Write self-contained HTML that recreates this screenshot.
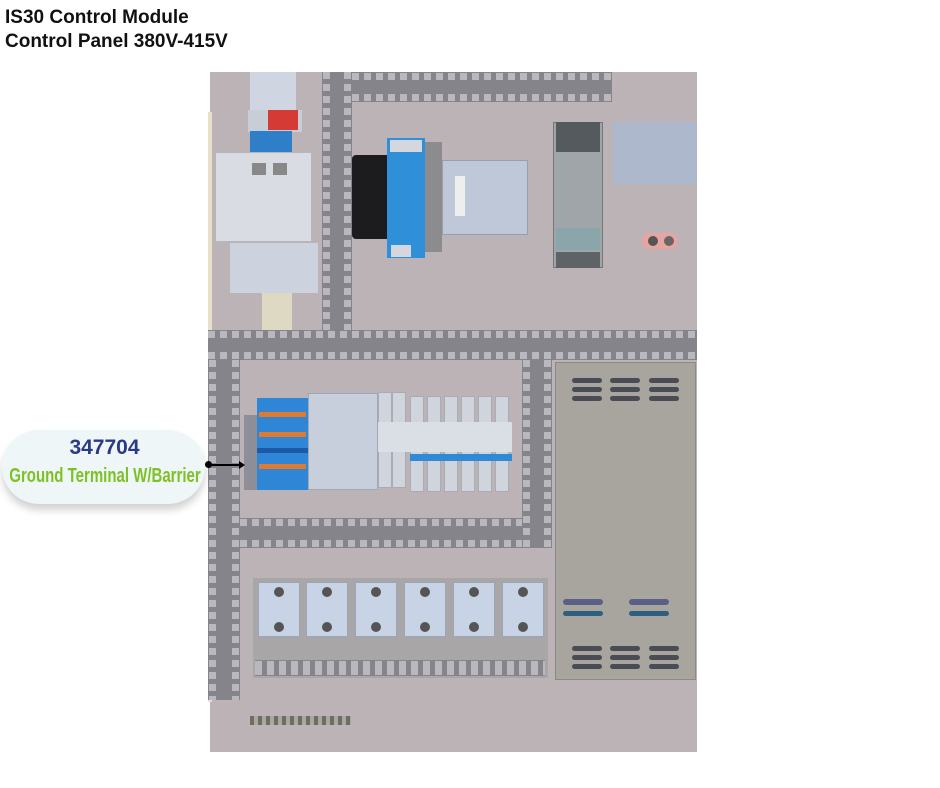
<!DOCTYPE html>
<html><head><style>
body{margin:0;width:940px;height:788px;background:#fff;position:relative;overflow:hidden;font-family:"Liberation Sans",sans-serif}
div{position:absolute;box-sizing:border-box}
.dh{background:#85848a;}
.dh:before,.dh:after{content:"";position:absolute;left:0;right:0;height:7px;background:repeating-linear-gradient(90deg,#b9b8be 0 7px,#85848a 7px 12px)}
.dh:before{top:1px}.dh:after{bottom:1px}
.dv{background:#85848a;}
.dv:before,.dv:after{content:"";position:absolute;top:0;bottom:0;width:7px;background:repeating-linear-gradient(180deg,#b9b8be 0 7px,#85848a 7px 12px)}
.dv:before{left:1px}.dv:after{right:1px}
.relay{width:42px;height:55px;background:#c9d3e6;border:1px solid #9aa5b8}
.relay:before{content:"";position:absolute;left:15px;top:4px;width:10px;height:10px;border-radius:50%;background:#555}
.relay:after{content:"";position:absolute;left:15px;bottom:4px;width:10px;height:10px;border-radius:50%;background:#555}
.slot{height:5px;width:30px;border-radius:3px;background:#4a4c55}
.br{width:14px;height:96px;background:#d0d4dc;border:1px solid #a7acb6}
</style></head><body>
<div style="left:5px;top:6px;font-weight:bold;font-size:19px;line-height:24px;color:#111">IS30 Control Module<br>Control Panel 380V-415V</div>

<!-- panel -->
<div style="left:210px;top:72px;width:487px;height:680px;background:#bbb3b6"></div>
<div style="left:208px;top:112px;width:4px;height:590px;background:#e8e0c8"></div>

<!-- top left modules -->
<div style="left:250px;top:72px;width:46px;height:40px;background:#cfd6e2"></div>
<div style="left:248px;top:110px;width:54px;height:22px;background:#c7ced8"></div>
<div style="left:268px;top:110px;width:30px;height:20px;background:#d63a35"></div>
<div style="left:250px;top:131px;width:42px;height:21px;background:#2f7fc8"></div>
<div style="left:215px;top:152px;width:97px;height:90px;background:#d9dce2;border:1px solid #b3b7bf"></div>
<div style="left:252px;top:163px;width:14px;height:12px;background:#888"></div>
<div style="left:273px;top:163px;width:14px;height:12px;background:#888"></div>
<div style="left:230px;top:243px;width:88px;height:50px;background:#cdd3de"></div>
<div style="left:262px;top:293px;width:30px;height:37px;background:#ddd9c2"></div>

<!-- ducts top -->
<div class="dv" style="left:322px;top:72px;width:30px;height:258px"></div>
<div class="dh" style="left:352px;top:72px;width:260px;height:30px"></div>
<div class="dh" style="left:208px;top:330px;width:489px;height:30px"></div>

<!-- top components -->
<div style="left:352px;top:155px;width:40px;height:84px;background:#1c1c1e;border-radius:4px"></div>
<div style="left:425px;top:142px;width:17px;height:110px;background:#8c8b8d"></div>
<div style="left:387px;top:138px;width:38px;height:120px;background:#2f8fd8"></div>
<div style="left:390px;top:140px;width:32px;height:12px;background:#d4d8de"></div>
<div style="left:391px;top:245px;width:20px;height:12px;background:#d4d8de"></div>
<div style="left:442px;top:160px;width:86px;height:75px;background:#bfc8d8;border:1px solid #98a0ae"></div>
<div style="left:455px;top:176px;width:10px;height:40px;background:#eee"></div>
<div style="left:553px;top:122px;width:50px;height:146px;background:#9fa5a8;border:1px solid #777"></div>
<div style="left:556px;top:122px;width:44px;height:30px;background:#555a5e"></div>
<div style="left:556px;top:252px;width:44px;height:16px;background:#5f6366"></div>
<div style="left:556px;top:228px;width:44px;height:22px;background:#8aa6aa"></div>
<div style="left:613px;top:122px;width:84px;height:62px;background:#aeb8cc"></div>
<div style="left:642px;top:233px;width:36px;height:16px;background:#e8a4a0;border-radius:8px"></div>
<div style="left:648px;top:236px;width:10px;height:10px;background:#555;border-radius:50%"></div>
<div style="left:664px;top:236px;width:10px;height:10px;background:#666;border-radius:50%"></div>

<!-- lower ducts -->
<div class="dv" style="left:208px;top:360px;width:32px;height:340px"></div>
<div class="dv" style="left:522px;top:360px;width:30px;height:188px"></div>
<div class="dh" style="left:240px;top:518px;width:282px;height:30px"></div>

<!-- terminal blocks -->
<div style="left:244px;top:415px;width:13px;height:75px;background:#8e8e98"></div>
<div style="left:257px;top:398px;width:51px;height:92px;background:#2f86d6"></div>
<div style="left:259px;top:412px;width:47px;height:5px;background:#e07a30"></div>
<div style="left:259px;top:432px;width:47px;height:5px;background:#e07a30"></div>
<div style="left:259px;top:464px;width:47px;height:5px;background:#e07a30"></div>
<div style="left:257px;top:448px;width:51px;height:5px;background:#1d5aa5"></div>
<div style="left:308px;top:393px;width:70px;height:97px;background:#c8cfdc;border:1px solid #a0a8b6"></div>
<div class="br" style="left:378px;top:392px"></div><div class="br" style="left:392px;top:392px"></div>
<div class="br" style="left:410px;top:396px"></div><div class="br" style="left:427px;top:396px"></div>
<div class="br" style="left:444px;top:396px"></div><div class="br" style="left:461px;top:396px"></div>
<div class="br" style="left:478px;top:396px"></div><div class="br" style="left:495px;top:396px"></div>
<div style="left:378px;top:422px;width:134px;height:30px;background:#dadfe6"></div>
<div style="left:410px;top:454px;width:102px;height:7px;background:#2f8ad6"></div>

<!-- relays -->
<div style="left:253px;top:578px;width:295px;height:100px;background:#a9a6a8"></div>
<div class="dh" style="left:255px;top:660px;width:290px;height:16px"></div>
<div class="relay" style="left:258px;top:582px"></div>
<div class="relay" style="left:306px;top:582px"></div>
<div class="relay" style="left:355px;top:582px"></div>
<div class="relay" style="left:404px;top:582px"></div>
<div class="relay" style="left:453px;top:582px"></div>
<div class="relay" style="left:502px;top:582px"></div>

<!-- cover box -->
<div style="left:555px;top:362px;width:141px;height:318px;background:#a8a59f;border:1px solid #8c8a85"></div>
<div class="slot" style="left:572px;top:378px"></div><div class="slot" style="left:610px;top:378px"></div><div class="slot" style="left:649px;top:378px"></div>
<div class="slot" style="left:572px;top:387px"></div><div class="slot" style="left:610px;top:387px"></div><div class="slot" style="left:649px;top:387px"></div>
<div class="slot" style="left:572px;top:396px"></div><div class="slot" style="left:610px;top:396px"></div><div class="slot" style="left:649px;top:396px"></div>
<div style="left:563px;top:599px;width:40px;height:6px;border-radius:3px;background:#5a5f88"></div>
<div style="left:629px;top:599px;width:40px;height:6px;border-radius:3px;background:#5a5f88"></div>
<div style="left:563px;top:611px;width:40px;height:5px;border-radius:3px;background:#2c5f80"></div>
<div style="left:629px;top:611px;width:40px;height:5px;border-radius:3px;background:#2c5f80"></div>
<div class="slot" style="left:572px;top:646px"></div><div class="slot" style="left:610px;top:646px"></div><div class="slot" style="left:649px;top:646px"></div>
<div class="slot" style="left:572px;top:655px"></div><div class="slot" style="left:610px;top:655px"></div><div class="slot" style="left:649px;top:655px"></div>
<div class="slot" style="left:572px;top:664px"></div><div class="slot" style="left:610px;top:664px"></div><div class="slot" style="left:649px;top:664px"></div>

<!-- bottom ground strip -->
<div style="left:250px;top:716px;width:101px;height:9px;background:repeating-linear-gradient(90deg,#6c6d66 0 4px,#a9aa9c 4px 8px)"></div>

<!-- label -->
<div style="left:2px;top:430px;width:203px;height:74px;border-radius:37px;background:#eef6f7;box-shadow:0 6px 8px rgba(0,0,0,0.18)"></div>
<div style="left:2px;top:436px;width:205px;text-align:center;font-weight:bold;font-size:21px;color:#2b3a86;line-height:24px">347704</div>
<div style="left:-40px;top:464px;width:290px;text-align:center;white-space:nowrap;font-weight:bold;font-size:20px;color:#7cc224;line-height:24px;transform:scaleX(0.75);transform-origin:145px 0">Ground Terminal W/Barrier</div>
<div style="left:205px;top:461px;width:7px;height:7px;border-radius:50%;background:#000"></div>
<div style="left:209px;top:464px;width:32px;height:2px;background:#000"></div>
<div style="left:239px;top:461px;width:0;height:0;border-left:6px solid #000;border-top:4px solid transparent;border-bottom:4px solid transparent"></div>
</body></html>
